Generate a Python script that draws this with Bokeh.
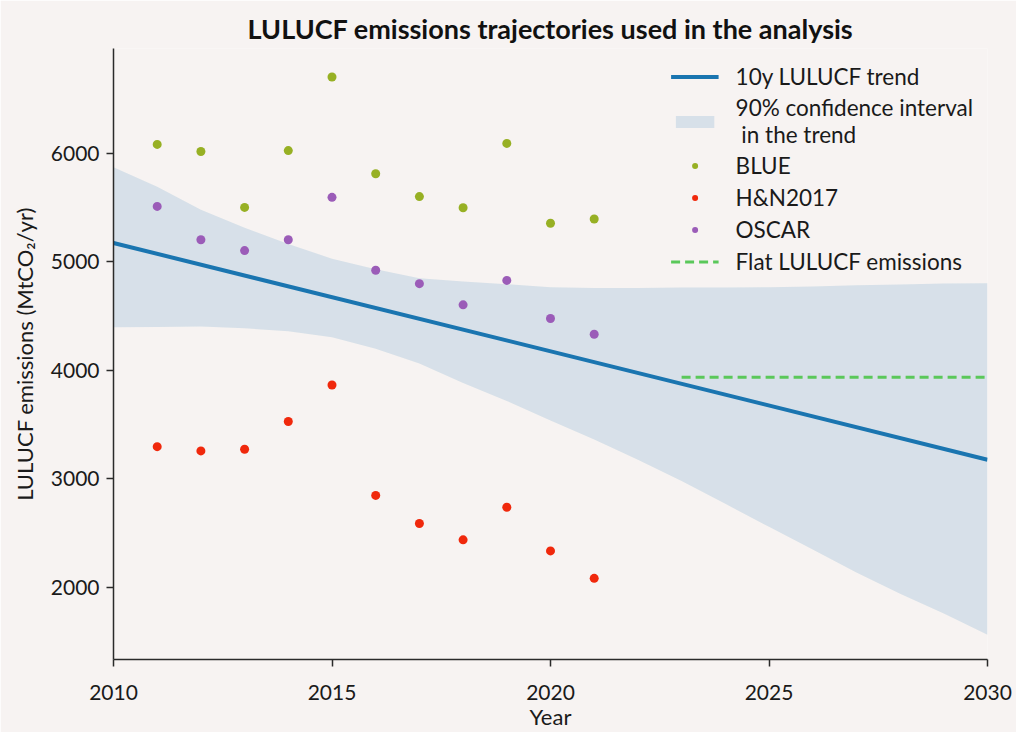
from bokeh.plotting import figure
from bokeh.models import Legend, LegendItem, FixedTicker, Range1d
from bokeh.embed import file_html
from bokeh.resources import INLINE

# ---- data ----
years = [2011, 2012, 2013, 2014, 2015, 2016, 2017, 2018, 2019, 2020, 2021]
blue_vals = [6081, 6015, 5500, 6024, 6702, 5810, 5600, 5497, 6090, 5354, 5393]
hn2017_vals = [3294, 3255, 3270, 3526, 3863, 2845, 2586, 2435, 2736, 2333, 2080]
oscar_vals = [5509, 5202, 5102, 5202, 5593, 4921, 4797, 4602, 4827, 4476, 4331]

trend_years = [2010, 2030]
trend_vals = [5172, 3174]

band_years = [2010, 2011, 2012, 2013, 2014, 2015, 2016, 2017, 2018, 2019, 2020,
              2021, 2022, 2023, 2024, 2025, 2026, 2027, 2028, 2029, 2030]
band_upper = [5871, 5690, 5479, 5313, 5163, 5027, 4930, 4846, 4816, 4792, 4765,
              4756, 4756, 4761, 4761, 4765, 4770, 4783, 4790, 4798, 4801]
band_lower = [4394, 4397, 4401, 4385, 4358, 4304, 4198, 4062, 3881, 3716, 3535,
              3360, 3174, 2977, 2767, 2555, 2345, 2134, 1938, 1757, 1561]

flat_years = [2023, 2030]
flat_vals = [3933, 3933]

x_ticks = [2010, 2015, 2020, 2025, 2030]
y_ticks = [2000, 3000, 4000, 5000, 6000]

BG = "#f7f3f2"
FONT = "Lato"
TXT = "#1a1a1a"

p = figure(width=1016, height=732, output_backend="svg", toolbar_location=None,
           x_range=Range1d(2010, 2030), y_range=Range1d(1332, 6965),
           min_border_left=113, min_border_right=29, min_border_top=48, min_border_bottom=67,
           title="LULUCF emissions trajectories used in the analysis")

p.background_fill_color = BG
p.border_fill_color = BG
p.outline_line_color = None
p.grid.visible = False

p.title.text_font = FONT
p.title.text_font_size = "27px"
p.title.text_font_style = "bold"
p.title.align = "center"
p.title.text_color = "#111111"
p.title.standoff = 8

band = p.varea(x=band_years, y1=band_lower, y2=band_upper,
               fill_color="#1f77b4", fill_alpha=0.15)
trend = p.line(trend_years, trend_vals, line_color="#1a75b0", line_width=4)
flat = p.line(flat_years, flat_vals, line_color="#5ac85a", line_width=3, line_dash="9 5")
s_blue = p.scatter(years, blue_vals, size=9, fill_color="#97b024", line_color=None)
s_hn = p.scatter(years, hn2017_vals, size=9, fill_color="#f0280c", line_color=None)
s_osc = p.scatter(years, oscar_vals, size=9, fill_color="#9b5cb8", line_color=None)

for ax in (p.xaxis[0], p.yaxis[0]):
    ax.axis_line_color = "#2a2a2a"
    ax.axis_line_width = 1.5
    ax.major_tick_line_color = "#2a2a2a"
    ax.major_tick_line_width = 1.5
    ax.major_tick_out = 7
    ax.major_tick_in = 0
    ax.minor_tick_line_color = None
    ax.major_label_text_font = FONT
    ax.major_label_text_font_size = "21px"
    ax.major_label_text_color = TXT
    ax.axis_label_text_font = FONT
    ax.axis_label_text_font_size = "22px"
    ax.axis_label_text_font_style = "normal"
    ax.axis_label_text_color = TXT

p.xaxis.ticker = FixedTicker(ticks=x_ticks)
p.yaxis.ticker = FixedTicker(ticks=y_ticks)
p.xaxis.axis_label = "Year"
p.yaxis.axis_label = "LULUCF emissions (MtCO\u2082/yr)"
p.xaxis.major_label_standoff = 18
p.xaxis.axis_label_standoff = 0
p.yaxis.major_label_standoff = 7
p.yaxis.axis_label_standoff = 10

legend = Legend(items=[
    LegendItem(label="10y LULUCF trend", renderers=[trend]),
    LegendItem(label="90% confidence interval\n in the trend", renderers=[band]),
    LegendItem(label="BLUE", renderers=[s_blue]),
    LegendItem(label="H&N2017", renderers=[s_hn]),
    LegendItem(label="OSCAR", renderers=[s_osc]),
    LegendItem(label="Flat LULUCF emissions", renderers=[flat]),
], location="top_right")
legend.background_fill_alpha = 0
legend.border_line_color = None
legend.margin = 14
legend.padding = 6
legend.spacing = 3
legend.glyph_width = 48
legend.glyph_height = 15
legend.label_height = 29
legend.label_standoff = 17
legend.label_text_font = FONT
legend.label_text_font_size = "22.5px"
legend.label_text_line_height = 1.0
legend.label_text_color = TXT
p.add_layout(legend)

open("out.html", "w").write(file_html(p, INLINE))
